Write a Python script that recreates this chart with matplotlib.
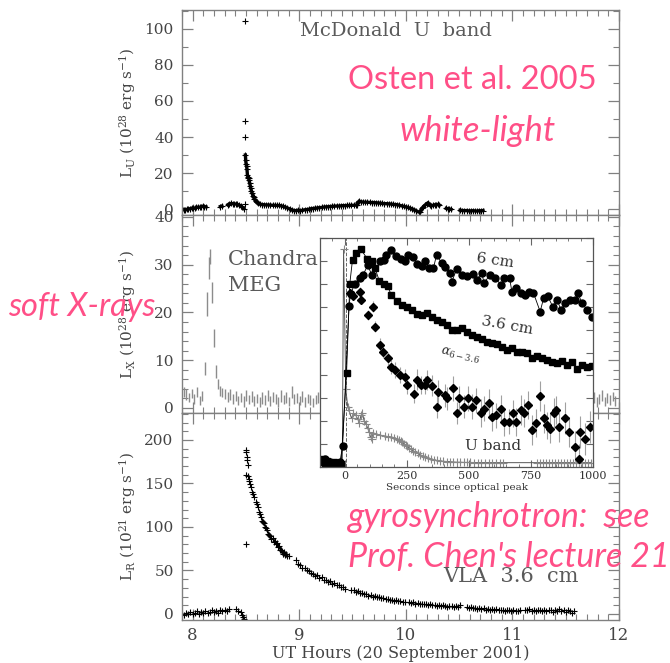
import numpy as np
import matplotlib
matplotlib.use("Agg")
import matplotlib.pyplot as plt
from matplotlib.ticker import MultipleLocator

nan = np.nan

# McDonald U band light curve (1e28 erg/s); nan breaks the line at data gaps
u_hours = [7.90, 7.915, 7.93, 7.945, 7.96, 7.975, 7.99, 8.005, 8.02, 8.035, 8.05, 8.065,
           8.08, 8.095, 8.11, 8.125, nan,
           8.26, 8.275, nan,
           8.33, 8.345, 8.36, 8.375, 8.39, 8.405, 8.42, 8.435, 8.45, 8.465, 8.48, nan,
           8.495, 8.498, 8.502, 8.506, 8.510, 8.514, 8.518, 8.522, 8.526, 8.530, 8.535,
           8.540, 8.546, 8.552, 8.558, 8.565, 8.572, 8.580, 8.590, 8.600, 8.615, 8.630,
           8.650, 8.67, 8.69, 8.71, 8.73, 8.75, 8.77, 8.79, 8.81, 8.83, 8.85, 8.87, 8.89,
           8.91, 8.93, 8.95, 8.97, 8.99, 9.01, 9.03, 9.05, 9.07, 9.09, 9.11, 9.13, 9.15,
           9.17, 9.19, 9.21, 9.23, 9.25, 9.27, 9.29, 9.31, 9.33, 9.35, 9.37, 9.39, 9.41,
           9.43, 9.45, 9.47, 9.49, 9.51, 9.53, 9.545, 9.55, 9.565, 9.58, 9.60, 9.62, 9.64,
           9.66, 9.68, 9.70, 9.72, 9.74, 9.76, 9.78, 9.80, 9.82, 9.84, 9.86, 9.88, 9.90,
           9.92, 9.94, 9.96, 9.98, 10.00, 10.02, 10.04, 10.06, 10.08, 10.10, 10.12, 10.135,
           10.15, 10.165, 10.18, 10.195, 10.21, 10.225, 10.24, 10.255, 10.27, 10.285, 10.30,
           10.315, nan,
           10.38, 10.395, 10.41, 10.425, nan,
           10.51, 10.53, 10.55, 10.57, 10.59, 10.61, 10.63, 10.65, 10.67, 10.69, 10.71, 10.725]
u_lum = [0.3, -0.4, -0.6, -0.2, 0.2, 0.0, 0.5, 0.6, 0.4, 0.9, 1.1, 1.0,
         1.3, 1.6, 1.4, 1.2, nan,
         1.4, 1.7, nan,
         2.4, 2.9, 3.1, 3.0, 2.9, 2.8, 2.6, 2.3, 1.8, 1.0, 0.3, nan,
         30.0, 27.0, 25.0, 24.0, 22.0, 19.0, 18.0, 17.5, 17.0, 16.0, 14.5,
         13.0, 11.5, 10.0, 9.0, 7.5, 6.5, 5.5, 4.5, 3.8, 3.2, 2.8,
         2.5, 2.4, 2.3, 2.3, 2.2, 2.1, 2.1, 2.0, 2.0, 1.8, 1.5, 1.1, 0.6,
         0.1, -0.4, -0.8, -0.9, -0.6, -0.9, -0.7, -0.4, -0.3, -0.1, 0.2, 0.3, 0.5,
         0.6, 0.8, 0.9, 1.1, 1.2, 1.3, 1.4, 1.5, 1.6, 1.7, 1.7, 1.8, 1.9,
         1.9, 2.0, 2.0, 2.1, 2.1, 2.2, 2.2, 3.8, 4.4, 4.0, 3.9, 3.8, 3.8,
         3.7, 3.6, 3.6, 3.5, 3.4, 3.3, 3.1, 3.0, 3.0, 2.9, 2.8, 2.6, 2.5,
         2.4, 2.1, 1.8, 1.5, 1.2, 0.9, 0.5, 0.1, -0.4, -1.0, -1.6, -1.9,
         0.4, 1.3, 2.2, 3.0, 3.5, 2.0, 1.7, 2.1, 2.4, 2.3, 2.6,
         2.2, nan,
         0.4, 0.2, 0.1, -0.2, nan,
         -0.6, -0.8, -0.9, -0.8, -1.0, -1.0, -0.9, -1.0, -1.1, -0.9, -1.0, -0.8]
# isolated samples at the optical peak
u_spike_hours = [8.489, 8.489, 8.489, 8.487]
u_spike_lum = [104.5, 49.0, 40.0, 3.0]

# Chandra MEG soft X-ray light curve (1e28 erg/s) with 1-sigma errors
chandra_hours = [7.915, 7.940, 7.965, 7.990, 8.015, 8.040, 8.065, 8.090,
                 8.119, 8.138, 8.153, 8.166, 8.184, 8.203, 8.219, 8.235,
                 8.255, 8.280, 8.305, 8.330, 8.355, 8.380, 8.405, 8.430, 8.455, 8.480,
                 8.505, 8.530, 8.555, 8.580, 8.605, 8.630, 8.655, 8.680, 8.705, 8.730,
                 8.755, 8.780, 8.805, 8.830, 8.855, 8.880, 8.905, 8.930, 8.955, 8.980,
                 9.005, 9.030, 9.055, 9.080, 9.105, 9.130, 9.155, 9.180, 9.205, 9.230,
                 11.740, 11.765, 11.790, 11.815, 11.840, 11.865, 11.890, 11.915, 11.940, 11.965]
chandra_lum = [3.4, 2.8, 2.2, 3.0, 1.9, 3.3, 1.6, 2.5,
               8.3, 21.8, 29.3, 31.7, 24.1, 14.7, 7.6, 5.0,
               3.6, 3.2, 2.9, 2.3, 2.8, 1.9, 2.5, 1.6, 2.2, 1.4,
               2.6, 1.8, 2.4, 1.5, 2.0, 1.2, 2.1, 1.7, 2.6, 1.5,
               2.3, 1.9, 1.3, 2.5, 1.8, 2.2, 1.4, 3.3, 1.9, 2.1,
               1.6, 2.4, 1.3, 2.0, 1.7, 1.1, 1.8, 2.2, 1.5, 2.0,
               1.6, 2.2, 1.2, 1.9, 2.6, 1.4, 2.1, 1.7, 2.4, 1.5]
chandra_err = [1.0, 1.1, 1.0, 1.0, 1.1, 1.0, 1.0, 1.1,
               1.3, 2.5, 2.4, 1.6, 2.2, 1.9, 1.3, 1.0,
               1.1, 1.0, 1.1, 1.0, 1.2, 1.0, 1.1, 1.0, 1.0, 1.1,
               1.2, 1.0, 1.1, 1.0, 1.0, 1.1, 1.2, 1.0, 1.1, 1.0,
               1.0, 1.1, 1.0, 1.2, 1.0, 1.1, 1.0, 1.3, 1.0, 1.1,
               1.0, 1.1, 1.0, 1.0, 1.1, 1.0, 1.0, 1.1, 1.0, 1.0,
               1.0, 1.1, 1.0, 1.0, 1.1, 1.0, 1.0, 1.1, 1.0, 1.0]

# VLA 3.6 cm light curve (1e21 erg/s); quiet segments sampled every VLA_STEP hours
VLA_STEP = 0.02
vla_seg_start = [7.90, 8.97, 9.49, 10.03, 10.57, 11.12]
vla_seg_lum = [
    [0.5, -1.5, 1.0, -0.5, 2.0, 0.0, 1.5, 3.0, 0.5, 2.5, 1.0, 3.5, 1.5, 2.0, 4.0, 2.5,
     3.0, 1.5, 4.5, 3.0, 5.0, 3.5, 6.0],
    [62, 57.5, 56, 53, 52.5, 50, 49.5, 47, 46.5, 44, 44.5, 41.5, 42, 39, 39.5, 37,
     37.5, 35, 35.5, 33, 33.5, 30.5, 31, 29],
    [27, 27.5, 25, 26, 24, 24.5, 22.5, 23, 21, 22, 20, 20.5, 19, 19.5, 18, 18.5,
     17, 17.5, 16, 16.5, 15, 15.5, 14.5, 15, 13.5, 14],
    [14, 13, 13.5, 12, 12.5, 11.5, 12, 11, 11.5, 10.5, 11, 10, 10.5, 9.5, 10, 9,
     10, 9.5, 8.5, 9.5, 9, 8, 9, 8.5, 10],
    [8, 7, 7.5, 6.5, 7, 6, 6.5, 5.5, 6.5, 5, 6, 5, 5.5, 4.5, 5.5, 4, 5, 4.5, 3.5,
     5, 4, 3, 4.5, 3.5, 3, 4],
    [5, 4, 5.5, 3.5, 4.5, 3, 5, 4, 3.5, 4.5, 3, 5, 4, 2.5, 4.5, 3.5, 6, 3, 4, 2.5,
     4, 3, 1.5, 3.5],
]
vla_flare_hours = [8.41, 8.43, 8.45, 8.46, 8.47, 8.48, 8.498, 8.501, 8.504, 8.507, 8.510,
                   8.515, 8.520, 8.525, 8.53, 8.54, 8.55, 8.56, 8.57, 8.58, 8.59, 8.60,
                   8.61, 8.62, 8.63, 8.64, 8.65, 8.66, 8.67, 8.68, 8.69, 8.70, 8.71, 8.72,
                   8.73, 8.74, 8.75, 8.76, 8.77, 8.78, 8.79, 8.80, 8.81, 8.82, 8.83, 8.84,
                   8.85, 8.86, 8.87, 8.88, 8.89, 8.90, 8.502]
vla_flare_lum = [6.0, 3.5, 2.0, -1.0, -3.5, -5.5, 160, 186, 189, 180, 177,
                 171, 158, 155, 153, 149, 146, 140, 138, 135, 129, 126,
                 123, 117, 115, 112, 107, 106, 104, 100, 99, 97, 92, 91,
                 90, 86, 87, 83, 84, 80, 81, 77, 78, 74, 73, 72,
                 69, 71, 68, 69, 67, 67, 80]
vla_err = 3.0

# inset: normalised flux vs seconds since optical peak
cm6_sec = [-95, -85, -78, -70, -60, -50, -40, -30, -20, -9, 17, 23, 40, 61, 74, 92, 110,
           141, 157, 165, 188, 206, 225, 242, 256, 273, 292, 310, 323, 340, 357, 370, 390,
           405, 424, 431, 451, 471, 491, 515, 532, 552, 561, 585, 606, 629, 642, 664, 673,
           690, 709, 727, 744, 760, 787, 801, 817, 838, 855, 871, 888, 908, 929, 938, 956,
           976, 996]
cm6_flux = [0.03, 0.02, 0.035, 0.015, 0.02, 0.01, 0.015, 0.01, 0.02, 0.09, 0.705, 0.755,
            0.80, 0.825, 0.84, 0.88, 0.837, 0.898, 0.905, 0.927, 0.949, 0.92, 0.91, 0.90,
            0.924, 0.915, 0.886, 0.876, 0.898, 0.869, 0.869, 0.927, 0.89, 0.875, 0.847,
            0.81, 0.864, 0.84, 0.835, 0.844, 0.818, 0.847, 0.803, 0.84, 0.825, 0.796, 0.825,
            0.825, 0.766, 0.781, 0.76, 0.752, 0.766, 0.76, 0.679, 0.737, 0.747, 0.70, 0.73,
            0.686, 0.718, 0.73, 0.73, 0.762, 0.715, 0.686, 0.654]
cm36_sec = [-98, -88, -80, -72, -64, -55, -45, -35, -25, -15, 7, 20, 31, 47, 65, 90, 108,
            121, 139, 157, 172, 188, 209, 229, 249, 269, 289, 310, 330, 350, 370, 390, 410,
            431, 451, 471, 491, 511, 532, 552, 572, 592, 612, 633, 653, 673, 693, 713, 733,
            754, 774, 794, 814, 834, 855, 875, 895, 915, 935, 956, 976, 996]
cm36_flux = [0.02, 0.035, 0.01, 0.025, 0.015, 0.01, 0.02, 0.012, 0.008, 0.015, 0.41, 0.80,
             0.905, 0.934, 0.95, 0.91, 0.90, 0.87, 0.813, 0.80, 0.79, 0.75, 0.726, 0.708,
             0.70, 0.686, 0.667, 0.664, 0.674, 0.657, 0.642, 0.632, 0.62, 0.60, 0.60, 0.606,
             0.59, 0.577, 0.566, 0.558, 0.547, 0.54, 0.536, 0.525, 0.51, 0.518, 0.504, 0.504,
             0.496, 0.477, 0.485, 0.474, 0.467, 0.46, 0.453, 0.463, 0.445, 0.46, 0.426, 0.445,
             0.438, 0.44]
alpha_sec = [20, 34, 61, 67, 94, 112, 121, 141, 152, 172, 188, 202, 222, 242, 252, 279, 289,
             306, 323, 330, 353, 370, 377, 404, 413, 435, 451, 462, 480, 498, 511, 529, 548,
             561, 581, 592, 610, 629, 642, 662, 676, 689, 709, 720, 740, 756, 771, 787, 801,
             814, 825, 841, 852, 864, 888, 902, 929, 942, 949, 969, 987]
alpha_val = [0.759, 0.745, 0.766, 0.73, 0.664, 0.70, 0.613, 0.533, 0.504, 0.474, 0.438,
             0.423, 0.401, 0.394, 0.358, 0.321, 0.382, 0.358, 0.358, 0.38, 0.355, 0.263,
             0.328, 0.314, 0.30, 0.343, 0.236, 0.30, 0.263, 0.30, 0.263, 0.292, 0.236, 0.255,
             0.28, 0.219, 0.226, 0.255, 0.197, 0.197, 0.234, 0.197, 0.248, 0.236, 0.27,
             0.161, 0.193, 0.309, 0.212, 0.182, 0.168, 0.236, 0.248, 0.175, 0.216, 0.153,
             0.088, 0.036, 0.153, 0.124, 0.175]
alpha_err = [0.015, 0.015, 0.02, 0.02, 0.02, 0.025, 0.025, 0.03, 0.03, 0.03, 0.03, 0.035,
             0.035, 0.035, 0.04, 0.04, 0.045, 0.04, 0.04, 0.045, 0.045, 0.05, 0.05, 0.05,
             0.05, 0.055, 0.05, 0.055, 0.05, 0.055, 0.055, 0.055, 0.06, 0.055, 0.06, 0.06,
             0.055, 0.06, 0.06, 0.055, 0.06, 0.06, 0.065, 0.06, 0.06, 0.065, 0.06, 0.065,
             0.065, 0.06, 0.065, 0.065, 0.06, 0.065, 0.07, 0.065, 0.07, 0.065, 0.07, 0.07,
             0.07]
uin_sec = [-98, -80, -60, -40, -20, -10, -5, 4, 12, 17, 27, 35, 44, 52, 58, 65, 71, 78,
           85, 92, 98, 104, 108, 115, 125, 140, 160, 175, 188, 200, 209, 217, 225, 232, 238,
           245, 252, 259, 266, 274, 283, 293, 303, 313, 323, 334, 346, 358, 370, 383, 397,
           410, 425, 437, 450, 465, 480, 491, 505, 520, 535, 550, 565, 580, 595, 610, 625,
           639, 774, 786, 798, 810, 822, 834, 846, 858, 870, 882, 894, 906, 918, 930, 942,
           954, 966, 978, 990]
uin_flux = [0.02, 0.015, 0.015, 0.012, 0.015, 0.02, 0.95, 0.34, 0.26, 0.248, 0.212, 0.235,
            0.226, 0.21, 0.193, 0.225, 0.236, 0.20, 0.19, 0.17, 0.153, 0.13, 0.124, 0.15,
            0.143, 0.14, 0.135, 0.133, 0.131, 0.128, 0.124, 0.12, 0.114, 0.108, 0.102,
            0.096, 0.09, 0.083, 0.077, 0.072, 0.066, 0.06, 0.054, 0.049, 0.044, 0.04, 0.035,
            0.032, 0.029, 0.027, 0.025, 0.024, 0.023, 0.022, 0.021, 0.021, 0.02, 0.02, 0.02,
            0.019, 0.019, 0.019, 0.019, 0.019, 0.019, 0.019, 0.019, 0.019, 0.019, 0.019,
            0.019, 0.019, 0.019, 0.019, 0.019, 0.019, 0.019, 0.019, 0.019, 0.019, 0.019,
            0.019, 0.019, 0.019, 0.019, 0.019, 0.019]

plt.rcParams['font.family'] = 'DejaVu Serif'
plt.rcParams['mathtext.fontset'] = 'dejavuserif'

AXC = '#808080'
TXC = '#444444'
LBC = '#5a5a5a'
PINK = '#ff4f87'

fig = plt.figure(figsize=(6.7, 6.63), dpi=100)
L, W = 0.2716, 0.6522
ax_u = fig.add_axes([L, 0.6757, W, 0.3092])
ax_x = fig.add_axes([L, 0.3771, W, 0.2986], sharex=ax_u)
ax_r = fig.add_axes([L, 0.0649, W, 0.3122], sharex=ax_u)


def style(ax, ymaj, ymin):
    for s in ax.spines.values():
        s.set_color(AXC)
        s.set_linewidth(1.0)
    ax.tick_params(which='both', direction='in', top=True, right=True,
                   colors=AXC, labelcolor=TXC, labelsize=11)
    ax.tick_params(which='major', length=8, width=0.9, pad=6)
    ax.tick_params(which='minor', length=4, width=0.8)
    ax.yaxis.set_major_locator(MultipleLocator(ymaj))
    ax.yaxis.set_minor_locator(MultipleLocator(ymin))
    ax.xaxis.set_major_locator(MultipleLocator(1))
    ax.xaxis.set_minor_locator(MultipleLocator(0.1))
    ax.yaxis.set_label_coords(-0.10, 0.5)


# top: optical
style(ax_u, 20, 10)
ax_u.plot(u_hours, u_lum, '-', color='k', lw=2.4)
ax_u.plot(u_hours, u_lum, '+', color='k', ms=4, mew=0.8)
ax_u.plot(u_spike_hours, u_spike_lum, '+', color='k', ms=4, mew=0.8)
ax_u.set_xlim(7.9, 12.0)
ax_u.set_ylim(-3.3, 110.5)
ax_u.set_ylabel(r'L$_{\rm U}$ (10$^{28}$ erg s$^{-1}$)', color=TXC, fontsize=11)
ax_u.text(0.49, 0.90, 'McDonald  U  band', transform=ax_u.transAxes, ha='center',
          va='center', fontsize=14, color=LBC)
ax_u.tick_params(labelbottom=False)

# middle: X-ray
style(ax_x, 10, 2)
ax_x.errorbar(chandra_hours, chandra_lum, yerr=chandra_err, fmt='none',
              ecolor='#8c8c8c', elinewidth=1.0, capsize=0)
ax_x.set_ylim(-1.05, 40.4)
ax_x.set_ylabel(r'L$_{\rm X}$ (10$^{28}$ erg s$^{-1}$)', color=TXC, fontsize=11)
ax_x.text(0.105, 0.773, 'Chandra', transform=ax_x.transAxes, ha='left', va='center',
          fontsize=15, color=LBC)
ax_x.text(0.105, 0.646, 'MEG', transform=ax_x.transAxes, ha='left', va='center',
          fontsize=15, color=LBC)
ax_x.tick_params(labelbottom=False)

# bottom: radio
style(ax_r, 50, 10)
for start, vals in zip(vla_seg_start, vla_seg_lum):
    hrs = start + VLA_STEP * np.arange(len(vals))
    ax_r.errorbar(hrs, vals, yerr=vla_err, fmt='+', color='k', ms=4.5, mew=0.8,
                  ecolor='#888888', elinewidth=0.6, capsize=0)
ax_r.errorbar(vla_flare_hours, vla_flare_lum, yerr=vla_err, fmt='+', color='k', ms=4.5,
              mew=0.8, ecolor='#888888', elinewidth=0.6, capsize=0)
ax_r.set_ylim(-6.9, 231)
ax_r.set_ylabel(r'L$_{\rm R}$ (10$^{21}$ erg s$^{-1}$)', color=TXC, fontsize=11)
ax_r.set_xlabel('UT Hours (20 September 2001)', color=TXC, fontsize=11.5, labelpad=1)
ax_r.tick_params(axis='x', labelsize=12, pad=5)
ax_r.text(0.753, 0.208, 'VLA  3.6  cm', transform=ax_r.transAxes, ha='center',
          va='center', fontsize=15, color=LBC)

# inset: first 1000 s after the optical peak
ins = fig.add_axes([0.4776, 0.2956, 0.4075, 0.3454])
ins.set_zorder(5)
ins.set_facecolor('white')
for s in ins.spines.values():
    s.set_color('#555555')
    s.set_linewidth(0.9)
ins.tick_params(which='both', direction='in', top=True, right=True, colors='#666666',
                labelcolor='#333333', labelsize=8, labelleft=False, pad=3)
ins.tick_params(which='major', length=5)
ins.tick_params(which='minor', length=2.5)
ins.xaxis.set_major_locator(MultipleLocator(250))
ins.xaxis.set_minor_locator(MultipleLocator(50))
ins.yaxis.set_major_locator(MultipleLocator(0.1))
ins.set_xlim(-100, 1000)
ins.set_ylim(0, 1)

ins.axvline(4, ls='--', color='#666666', lw=0.7)
ins.plot(uin_sec, uin_flux, '-', color='#555555', lw=0.7)
ins.plot(uin_sec, uin_flux, '+', color='#888888', ms=6, mew=0.8)
ins.plot(cm6_sec, cm6_flux, '-', color='k', lw=0.6)
ins.plot(cm6_sec, cm6_flux, 'o', color='k', ms=5)
ins.plot(cm36_sec, cm36_flux, '-', color='k', lw=0.6)
ins.plot(cm36_sec, cm36_flux, 's', color='k', ms=4.5)
ins.errorbar(alpha_sec, alpha_val, yerr=alpha_err, fmt='D', color='k', ms=3.8,
             ecolor='#a0a0a0', elinewidth=0.8, capsize=0)
ins.set_xlabel('Seconds since optical peak', fontsize=7.5, color='#333333', labelpad=1)

ins.text(606, 0.90, '6 cm', fontsize=11, color='#333333', rotation=-8,
         ha='center', va='center', rotation_mode='anchor')
ins.text(655, 0.616, '3.6 cm', fontsize=11, color='#333333', rotation=-10,
         ha='center', va='center', rotation_mode='anchor')
ins.text(462, 0.485, r'$\alpha_{6-3.6}$', fontsize=9, color='#333333', rotation=-12,
         ha='center', va='center', rotation_mode='anchor')
ins.text(599, 0.09, 'U band', fontsize=11, color='#333333', ha='center', va='center')


# annotations
def note(x, y, s, size, ha='center', style='normal'):
    fig.text(x / 670, 1 - y / 663, s, ha=ha, va='center', color=PINK, fontsize=size,
             family='Lato', style=style, zorder=20)


note(472, 80, 'Osten et al. 2005', 23.5)
note(478, 131, 'white-light', 25, style='italic')
note(82, 307, 'soft X-rays', 23.5, style='italic')
note(348, 517, 'gyrosynchrotron:  see', 24.5, ha='left', style='italic')
note(348, 557, "Prof. Chen's lecture 21", 24.5, ha='left', style='italic')

fig.savefig('out.png', dpi=100)
